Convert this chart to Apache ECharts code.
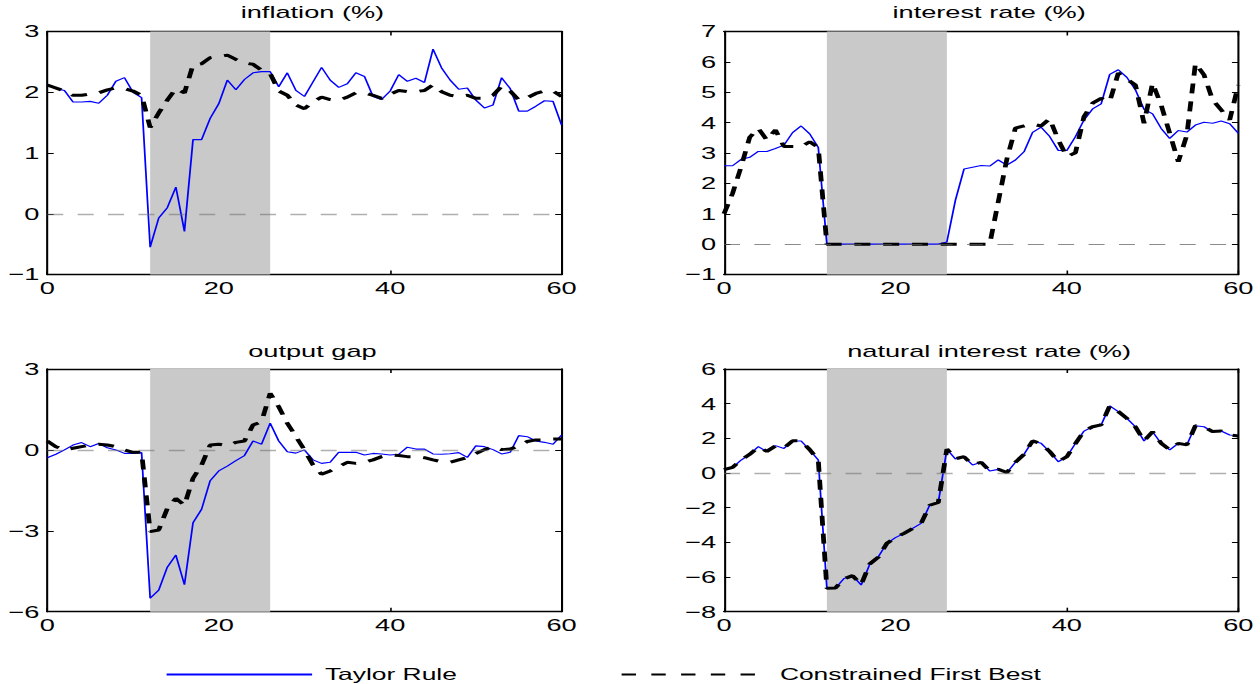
<!DOCTYPE html>
<html>
<head>
<meta charset="utf-8">
<script src="https://cdn.jsdelivr.net/npm/echarts@6/dist/echarts.min.js"></script>
<style>
html, body { margin: 0; padding: 0; background: #fff; overflow: hidden; }
#wrap { position: absolute; left: 0; top: 0; width: 1260px; height: 684px; overflow: hidden; background: #fff; }
/* the figure is laid out narrow and stretched horizontally, like the printed original */
#chart { position: absolute; left: 0; top: 0; width: 788px; height: 684px; transform-origin: 0 0; transform: scaleX(1.598985); }
</style>
</head>
<body>
<div id="wrap"><div id="chart"></div></div>
<script>
// quarters after the start of the simulation
const periods = [
  0, 1, 2, 3, 4, 5, 6, 7, 8, 9, 10, 11, 12, 13, 14, 15, 16, 17, 18, 19, 20,
  21, 22, 23, 24, 25, 26, 27, 28, 29, 30, 31, 32, 33, 34, 35, 36, 37, 38, 39, 40,
  41, 42, 43, 44, 45, 46, 47, 48, 49, 50, 51, 52, 53, 54, 55, 56, 57, 58, 59, 60
];

// shaded episode (zero lower bound binding)
const shadedPeriod = [12, 26];

// inflation (%)
const inflationTaylor = [
  2.12, 2.06, 2.03, 1.84, 1.84, 1.85, 1.82, 1.95, 2.18, 2.24, 2.00, 1.91, -0.55, -0.07, 0.10, 0.44, -0.29,
  1.22, 1.22, 1.57, 1.81, 2.20, 2.04, 2.21, 2.32, 2.34, 2.34, 2.09, 2.32, 2.03, 1.93, 2.17, 2.41,
  2.20, 2.08, 2.14, 2.32, 2.26, 1.93, 1.88, 2.02, 2.29, 2.18, 2.23, 2.16, 2.71, 2.40, 2.20, 2.05,
  2.07, 1.87, 1.74, 1.79, 2.24, 2.06, 1.69, 1.69, 1.77, 1.86, 1.85, 1.46
];
const inflationCFB = [
  2.12, 2.07, 2.02, 1.95, 1.95, 1.97, 1.99, 2.04, 2.07, 2.06, 2.02, 1.95, 1.42, 1.66, 1.87, 2.06, 1.99,
  2.45, 2.47, 2.57, 2.59, 2.61, 2.54, 2.48, 2.46, 2.36, 2.31, 2.02, 1.95, 1.79, 1.73, 1.84, 1.92,
  1.88, 1.87, 1.92, 1.99, 1.99, 1.95, 1.90, 1.97, 2.03, 2.01, 2.01, 2.03, 2.12, 2.01, 1.95, 1.93,
  1.95, 1.90, 1.90, 1.95, 2.10, 2.02, 1.87, 1.91, 1.98, 2.02, 2.02, 1.93
];

// interest rate (%)
const rateTaylor = [
  2.58, 2.58, 2.79, 2.86, 3.05, 3.05, 3.15, 3.26, 3.67, 3.89, 3.63, 3.18, 0, 0, 0, 0, 0,
  0, 0, 0, 0, 0, 0, 0, 0, 0, 0.07, 1.45, 2.47, 2.53, 2.59, 2.57, 2.77,
  2.60, 2.77, 3.04, 3.68, 3.85, 3.54, 3.08, 3.08, 3.54, 4.09, 4.45, 4.62, 5.59, 5.74, 5.49, 5.08,
  4.44, 4.29, 3.81, 3.48, 3.74, 3.69, 3.92, 4.01, 3.98, 4.05, 3.96, 3.65
];
const rateCFB = [
  1.00, 1.67, 2.55, 3.52, 3.81, 3.43, 3.76, 3.21, 3.21, 3.21, 3.37, 3.18, 0, 0, 0, 0, 0,
  0, 0, 0, 0, 0, 0, 0, 0, 0, 0, 0, 0, 0, 0, 0, 1.40,
  2.80, 3.82, 3.89, 3.95, 3.89, 4.13, 3.43, 2.88, 3.01, 4.20, 4.64, 4.80, 4.69, 5.63, 5.43, 5.24,
  3.98, 5.30, 4.58, 3.65, 2.71, 3.59, 5.95, 5.57, 4.75, 4.42, 4.09, 5.24
];

// output gap
const gapTaylor = [
  -0.29, -0.16, 0.00, 0.18, 0.27, 0.12, 0.24, 0.08, 0.00, -0.13, -0.13, -0.10, -5.50, -5.20, -4.35, -3.90, -5.00,
  -2.70, -2.20, -1.14, -0.78, -0.60, -0.40, -0.21, 0.33, 0.21, 0.99, 0.33, -0.07, -0.12, 0.00, -0.37, -0.50,
  -0.46, -0.09, -0.09, -0.09, -0.19, -0.13, -0.15, -0.19, -0.16, 0.10, 0.03, 0.03, -0.15, -0.16, -0.14, -0.10,
  -0.28, 0.15, 0.12, 0.01, -0.15, -0.09, 0.53, 0.49, 0.33, 0.28, 0.21, 0.55
];
const gapCFB = [
  0.33, 0.12, 0.00, 0.06, 0.12, 0.18, 0.21, 0.18, 0.12, 0.00, -0.09, -0.09, -3.03, -2.97, -2.17, -1.80, -2.05,
  -1.05, -0.56, 0.18, 0.21, 0.16, 0.28, 0.33, 0.92, 1.05, 2.10, 1.60, 0.99, 0.50, 0.00, -0.56, -0.90,
  -0.78, -0.62, -0.46, -0.50, -0.46, -0.37, -0.25, -0.19, -0.21, -0.25, -0.25, -0.29, -0.37, -0.44, -0.46, -0.37,
  -0.28, -0.13, 0.01, 0.12, 0.01, 0.03, 0.15, 0.31, 0.37, 0.37, 0.40, 0.40
];

// natural interest rate (%)
const naturalTaylor = [
  0.17, 0.31, 0.75, 1.08, 1.52, 1.23, 1.58, 1.42, 1.85, 1.85, 1.33, 0.75, -6.65, -6.65, -6.08, -5.92, -6.46,
  -5.27, -4.83, -4.06, -3.73, -3.48, -3.19, -2.90, -1.85, -1.71, 1.37, 0.81, 0.94, 0.46, 0.62, 0.12, 0.21,
  0.02, 0.62, 1.08, 1.85, 1.71, 1.23, 0.65, 0.94, 1.71, 2.42, 2.67, 2.77, 3.87, 3.54, 3.15, 2.67,
  1.85, 2.38, 1.71, 1.33, 1.71, 1.62, 2.73, 2.67, 2.38, 2.42, 2.19, 2.15
];
const naturalCFB = [
  0.20, 0.33, 0.75, 1.08, 1.50, 1.25, 1.56, 1.44, 1.86, 1.85, 1.35, 0.75, -6.65, -6.63, -6.10, -5.92, -6.44,
  -5.25, -4.85, -4.06, -3.73, -3.48, -3.20, -2.90, -1.86, -1.70, 1.38, 0.82, 0.94, 0.47, 0.62, 0.12, 0.22,
  0.03, 0.62, 1.08, 1.85, 1.70, 1.24, 0.66, 0.94, 1.70, 2.42, 2.67, 2.78, 3.87, 3.55, 3.15, 2.66,
  1.86, 2.38, 1.72, 1.34, 1.71, 1.62, 2.73, 2.67, 2.39, 2.42, 2.20, 2.14
];

// axis ticks
const xTicks = [0, 20, 40, 60];
const inflationTicks = [-1, 0, 1, 2, 3];
const rateTicks = [-1, 0, 1, 2, 3, 4, 5, 6, 7];
const gapTicks = [-6, -3, 0, 3];
const naturalTicks = [-8, -6, -4, -2, 0, 2, 4, 6];

const seriesNames = ['Taylor Rule', 'Constrained First Best'];

const S = 1260 / 788;  // horizontal stretch of the page
const FONT = '"Liberation Sans", Arial, Helvetica, sans-serif';

const panels = [
  { title: 'inflation (%)', taylor: inflationTaylor, cfb: inflationCFB, ticks: inflationTicks,
    left: 47.3, top: 31.5, height: 243, titleTop: 0, zero: 'rgba(110,110,110,0.55)', zeroW: 1.3 },
  { title: 'interest rate (%)', taylor: rateTaylor, cfb: rateCFB, ticks: rateTicks,
    left: 724, top: 31.5, height: 243, titleTop: 0, zero: 'rgba(90,90,90,0.7)', zeroW: 0.9 },
  { title: 'output gap', taylor: gapTaylor, cfb: gapCFB, ticks: gapTicks,
    left: 47.3, top: 369, height: 242.7, titleTop: 339, zero: 'rgba(110,110,110,0.55)', zeroW: 1.3 },
  { title: 'natural interest rate (%)', taylor: naturalTaylor, cfb: naturalCFB, ticks: naturalTicks,
    left: 724, top: 369, height: 242.7, titleTop: 339, zero: 'rgba(110,110,110,0.55)', zeroW: 1.3 }
];
const panelWidth = 514.3;

const fmt = v => (v < 0 ? '\u2212' + Math.abs(v) : String(v));
const pairs = ys => periods.map((t, i) => [t, ys[i]]);

const grid = [], xAxis = [], yAxis = [], series = [], title = [];
const frame = { show: true, onZero: false, lineStyle: { color: '#000', width: 1.3 } };
const tick = { show: true, inside: true, length: 4, lineStyle: { color: '#000', width: 1 } };

panels.forEach((p, i) => {
  const gl = p.left / S, gw = panelWidth / S;
  grid.push({ left: gl, top: p.top, width: gw, height: p.height, containLabel: false });
  title.push({
    text: p.title, left: gl + gw / 2, top: p.titleTop, textAlign: 'center', padding: [2, 5, 2, 5],
    textStyle: { fontSize: 17, lineHeight: 20, fontWeight: 'normal', color: '#000', fontFamily: FONT }
  });
  const xMin = xTicks[0], xMax = xTicks[xTicks.length - 1], xStep = xTicks[1] - xTicks[0];
  const yMin = p.ticks[0], yMax = p.ticks[p.ticks.length - 1], yStep = p.ticks[1] - p.ticks[0];
  xAxis.push({
    type: 'value', gridIndex: i, position: 'bottom', min: xMin, max: xMax, interval: xStep,
    axisLine: frame, axisTick: tick, splitLine: { show: false },
    axisLabel: { color: '#000', fontSize: 17, fontFamily: FONT, margin: 5 }
  });
  xAxis.push({
    type: 'value', gridIndex: i, position: 'top', min: xMin, max: xMax, interval: xStep,
    axisLine: frame, axisTick: tick, splitLine: { show: false }, axisLabel: { show: false }
  });
  yAxis.push({
    type: 'value', gridIndex: i, position: 'left', min: yMin, max: yMax, interval: yStep,
    axisLine: frame, axisTick: tick, splitLine: { show: false },
    axisLabel: { color: '#000', fontSize: 17, fontFamily: FONT, margin: 5, formatter: fmt }
  });
  yAxis.push({
    type: 'value', gridIndex: i, position: 'right', min: yMin, max: yMax, interval: yStep,
    axisLine: frame, axisTick: tick, splitLine: { show: false }, axisLabel: { show: false }
  });
  const ax = { xAxisIndex: 2 * i, yAxisIndex: 2 * i };
  // shaded episode
  series.push(Object.assign({
    type: 'line', data: [], z: 1, silent: true, symbol: 'none',
    markArea: { silent: true, itemStyle: { color: '#c9c9c9' },
      data: [[{ xAxis: shadedPeriod[0] }, { xAxis: shadedPeriod[1] }]] }
  }, ax));
  // zero reference line
  series.push(Object.assign({
    type: 'line', data: [], z: 2, silent: true, symbol: 'none',
    markLine: { silent: true, symbol: 'none', label: { show: false },
      lineStyle: { color: p.zero, width: p.zeroW, type: [10, 9] },
      data: [{ yAxis: 0 }] }
  }, ax));
  series.push(Object.assign({
    name: seriesNames[0], type: 'line', data: pairs(p.taylor), z: 3, symbol: 'none', silent: true,
    lineStyle: { color: '#0000ff', width: 1.1 }, itemStyle: { color: '#0000ff' }
  }, ax));
  series.push(Object.assign({
    name: seriesNames[1], type: 'line', data: pairs(p.cfb), z: 4, symbol: 'none', silent: true,
    lineStyle: { color: '#000', width: 3, type: [10, 8] }, itemStyle: { color: '#000' }
  }, ax));
});

const legendText = { fontSize: 16.5, color: '#000', fontFamily: FONT, padding: [0, 0, 0, 3] };
// line-only legend keys (the marker dot is made invisible)
const legendKey = { color: 'rgba(0,0,0,0)', borderColor: 'rgba(0,0,0,0)', borderWidth: 0, opacity: 0 };
const option = {
  animation: false,
  backgroundColor: '#fff',
  title: title,
  grid: grid,
  xAxis: xAxis,
  yAxis: yAxis,
  series: series,
  legend: [
    { data: [seriesNames[0]], left: 165 / S - 5, top: 661, itemWidth: 91, itemHeight: 14,
      textStyle: legendText, itemStyle: legendKey, selectedMode: false },
    { data: [seriesNames[1]], left: 620 / S - 5, top: 661, itemWidth: 91, itemHeight: 14,
      textStyle: legendText, itemStyle: legendKey, lineStyle: { type: [9, 9.6] }, selectedMode: false }
  ]
};

const chart = echarts.init(document.getElementById('chart'), null, { renderer: 'svg' });
chart.setOption(option);
</script>
</body>
</html>
